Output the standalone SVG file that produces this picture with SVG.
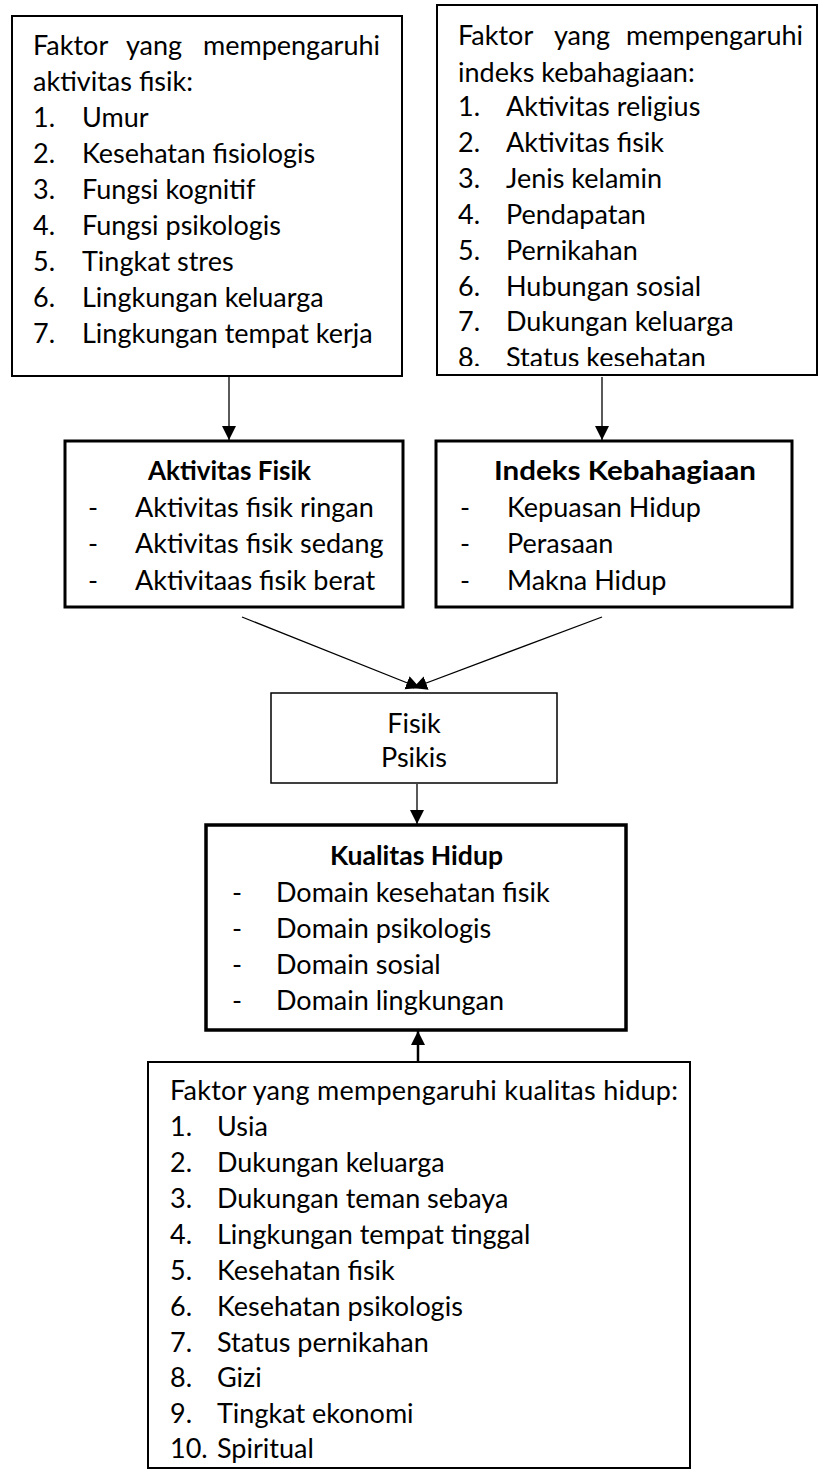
<svg xmlns="http://www.w3.org/2000/svg" width="820" height="1472" viewBox="0 0 820 1472">
<style>
.t{font-family:Lato,"Liberation Sans",sans-serif;font-size:27px;fill:#000}
.b{font-weight:bold}
.box{fill:#fff;stroke:#000;stroke-width:2}
.thick{stroke-width:3}
.thin{stroke-width:1.5}
.con{stroke:#000;stroke-width:1.3;fill:none}
</style>
<defs>
<marker id="ah" markerUnits="userSpaceOnUse" markerWidth="15" markerHeight="15" refX="14" refY="7" orient="auto">
<path d="M0,0 L14,7 L0,14 z" fill="#000"/>
</marker>
<clipPath id="clip2"><rect x="437" y="6" width="380" height="360"/></clipPath>
</defs>
<rect width="820" height="1472" fill="#fff"/>

<g id="connectors">
<line class="con" x1="229" y1="377" x2="229" y2="440" marker-end="url(#ah)"/>
<line class="con" x1="602" y1="377" x2="602" y2="440" marker-end="url(#ah)"/>
<line class="con" x1="242" y1="617" x2="420" y2="688" marker-end="url(#ah)"/>
<line class="con" x1="602" y1="617" x2="413" y2="688" marker-end="url(#ah)"/>
<line class="con" x1="417" y1="784" x2="417" y2="824" marker-end="url(#ah)"/>
<line class="con" style="stroke-width:2.5" x1="418" y1="1062" x2="418" y2="1031" marker-end="url(#ah)"/>
</g>

<g id="faktor-aktivitas">
<rect class="box" x="12" y="16" width="390" height="360"/>
<text class="t" x="33" y="55">Faktor</text>
<text class="t" x="154" y="55" text-anchor="middle">yang</text>
<text class="t" x="380" y="55" text-anchor="end">mempengaruhi</text>
<text class="t" x="33" y="91">aktivitas fisik:</text>
<text class="t" x="33" y="127">1.</text><text class="t" x="82" y="127">Umur</text>
<text class="t" x="33" y="163">2.</text><text class="t" x="82" y="163">Kesehatan fisiologis</text>
<text class="t" x="33" y="199">3.</text><text class="t" x="82" y="199">Fungsi kognitif</text>
<text class="t" x="33" y="235">4.</text><text class="t" x="82" y="235">Fungsi psikologis</text>
<text class="t" x="33" y="271">5.</text><text class="t" x="82" y="271">Tingkat stres</text>
<text class="t" x="33" y="307">6.</text><text class="t" x="82" y="307">Lingkungan keluarga</text>
<text class="t" x="33" y="343">7.</text><text class="t" x="82" y="343">Lingkungan tempat kerja</text>
</g>

<g id="faktor-kebahagiaan">
<rect class="box" x="437" y="5" width="380" height="370"/>
<g clip-path="url(#clip2)">
<text class="t" x="458" y="45">Faktor</text>
<text class="t" x="582" y="45" text-anchor="middle">yang</text>
<text class="t" x="803" y="45" text-anchor="end">mempengaruhi</text>
<text class="t" x="458" y="82">indeks kebahagiaan:</text>
<text class="t" x="458" y="116">1.</text><text class="t" x="506" y="116">Aktivitas religius</text>
<text class="t" x="458" y="152">2.</text><text class="t" x="506" y="152">Aktivitas fisik</text>
<text class="t" x="458" y="188">3.</text><text class="t" x="506" y="188">Jenis kelamin</text>
<text class="t" x="458" y="224">4.</text><text class="t" x="506" y="224">Pendapatan</text>
<text class="t" x="458" y="260">5.</text><text class="t" x="506" y="260">Pernikahan</text>
<text class="t" x="458" y="296">6.</text><text class="t" x="506" y="296">Hubungan sosial</text>
<text class="t" x="458" y="331">7.</text><text class="t" x="506" y="331">Dukungan keluarga</text>
<text class="t" x="458" y="367">8.</text><text class="t" x="506" y="367">Status kesehatan</text>
</g>
</g>

<g id="aktivitas-fisik">
<rect class="box thick" x="65" y="441" width="338" height="166"/>
<text class="t b" x="148" y="480" textLength="163" lengthAdjust="spacingAndGlyphs">Aktivitas Fisik</text>
<text class="t" x="88" y="517">-</text><text class="t" x="135" y="517">Aktivitas fisik ringan</text>
<text class="t" x="88" y="553">-</text><text class="t" x="135" y="553">Aktivitas fisik sedang</text>
<text class="t" x="88" y="590">-</text><text class="t" x="135" y="590">Aktivitaas fisik berat</text>
</g>

<g id="indeks-kebahagiaan">
<rect class="box thick" x="436" y="441" width="356" height="166"/>
<text class="t b" x="494" y="480" textLength="262" lengthAdjust="spacingAndGlyphs">Indeks Kebahagiaan</text>
<text class="t" x="460" y="517">-</text><text class="t" x="507" y="517">Kepuasan Hidup</text>
<text class="t" x="460" y="553">-</text><text class="t" x="507" y="553">Perasaan</text>
<text class="t" x="460" y="590">-</text><text class="t" x="507" y="590">Makna Hidup</text>
</g>

<g id="fisik-psikis">
<rect class="box thin" x="271" y="693" width="286" height="90"/>
<text class="t" x="414" y="733" text-anchor="middle">Fisik</text>
<text class="t" x="414" y="767" text-anchor="middle">Psikis</text>
</g>

<g id="kualitas-hidup">
<rect class="box thick" style="stroke-width:3.5" x="206" y="825" width="420" height="205"/>
<text class="t b" x="330" y="865" textLength="173" lengthAdjust="spacingAndGlyphs">Kualitas Hidup</text>
<text class="t" x="232" y="902">-</text><text class="t" x="276" y="902">Domain kesehatan fisik</text>
<text class="t" x="232" y="938">-</text><text class="t" x="276" y="938">Domain psikologis</text>
<text class="t" x="232" y="974">-</text><text class="t" x="276" y="974">Domain sosial</text>
<text class="t" x="232" y="1010">-</text><text class="t" x="276" y="1010">Domain lingkungan</text>
</g>

<g id="faktor-kualitas">
<rect class="box" x="148" y="1062" width="542" height="406"/>
<text class="t" x="170" y="1100" textLength="508">Faktor yang mempengaruhi kualitas hidup:</text>
<text class="t" x="170" y="1136">1.</text><text class="t" x="217" y="1136">Usia</text>
<text class="t" x="170" y="1172">2.</text><text class="t" x="217" y="1172">Dukungan keluarga</text>
<text class="t" x="170" y="1208">3.</text><text class="t" x="217" y="1208">Dukungan teman sebaya</text>
<text class="t" x="170" y="1244">4.</text><text class="t" x="217" y="1244">Lingkungan tempat tinggal</text>
<text class="t" x="170" y="1280">5.</text><text class="t" x="217" y="1280">Kesehatan fisik</text>
<text class="t" x="170" y="1316">6.</text><text class="t" x="217" y="1316">Kesehatan psikologis</text>
<text class="t" x="170" y="1352">7.</text><text class="t" x="217" y="1352">Status pernikahan</text>
<text class="t" x="170" y="1387">8.</text><text class="t" x="217" y="1387">Gizi</text>
<text class="t" x="170" y="1423">9.</text><text class="t" x="217" y="1423">Tingkat ekonomi</text>
<text class="t" x="170" y="1458">10.</text><text class="t" x="217" y="1458">Spiritual</text>
</g>
</svg>
